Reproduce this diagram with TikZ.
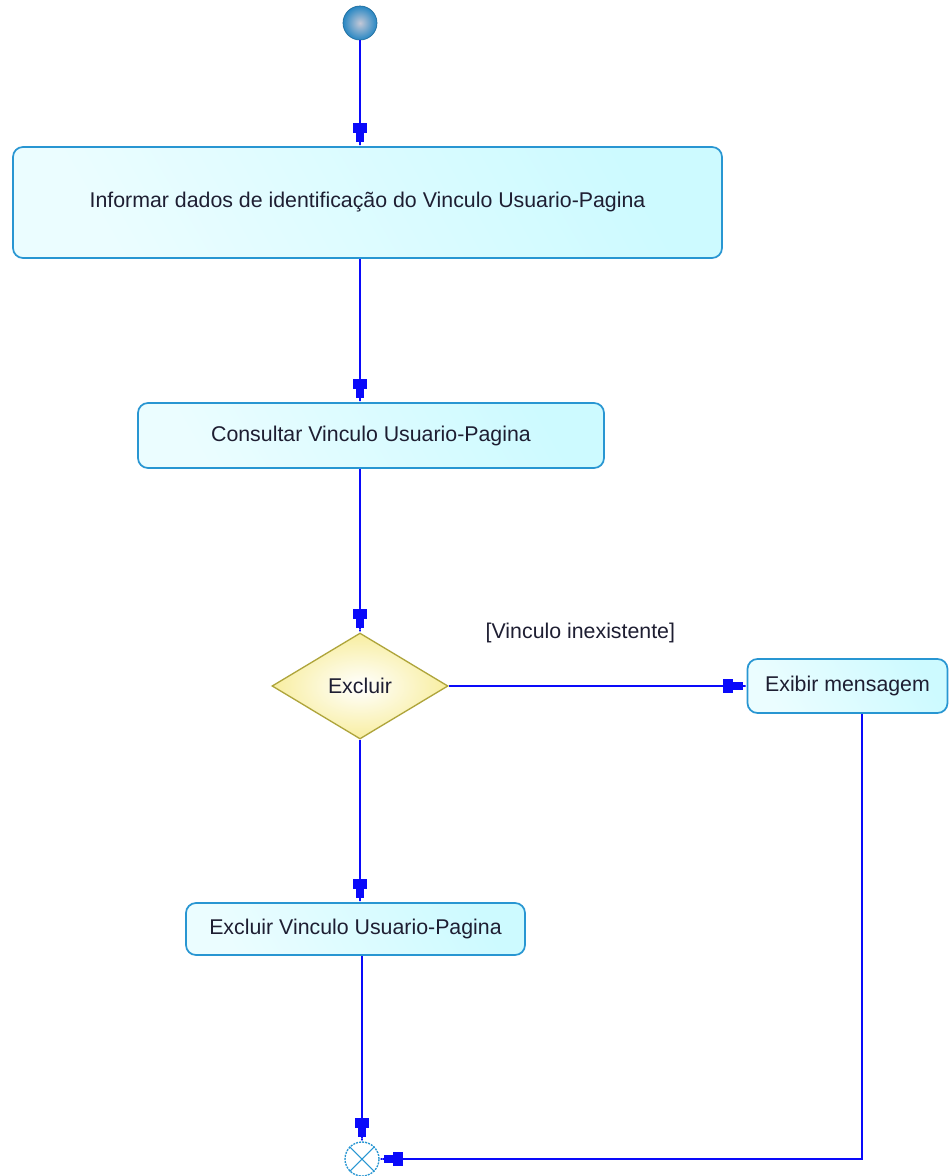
\documentclass[tikz,border=0pt]{standalone}
\usepackage{fontspec}
\setmainfont{Liberation Sans}
\usetikzlibrary{arrows.meta,shapes.geometric}
\definecolor{edgeblue}{RGB}{10,10,250}
\definecolor{boxborder}{RGB}{40,150,210}
\definecolor{boxfill}{RGB}{205,250,255}
\definecolor{diafill}{RGB}{248,238,160}
\definecolor{diaborder}{RGB}{175,165,60}
\definecolor{ballin}{RGB}{195,200,215}
\definecolor{ballout}{RGB}{40,135,195}
\definecolor{txt}{RGB}{30,30,50}
\begin{document}
\begin{tikzpicture}[x=0.75pt,y=-0.75pt,
  every node/.style={font=\fontsize{16}{19}\selectfont, text=txt},
  act/.style={draw=boxborder, line width=1.3pt, rounded corners=7.5pt,
    shading=axis, left color=boxfill, right color=white!60!boxfill, shading angle=-60,
    inner sep=0pt},
  dec/.style={diamond, draw=diaborder, line width=1pt, inner sep=0pt,
    inner color=white, outer color=diafill},
  flow/.style={draw=edgeblue, line width=1.5pt,
    -{Rectangle[length=7.5pt,width=10.5pt,sep=0pt] Rectangle[length=7pt,width=6.5pt,sep=0pt] Rectangle[length=3pt,width=1.5pt,sep=0pt]}}]
\useasboundingbox (0,0) rectangle (949,1176);
\fill[white] (0,0) rectangle (949,1176);

\node[circle, minimum size=25.5pt, inner sep=0pt, inner color=ballin, outer color=ballout,
  draw=ballout!80!black, line width=0.5pt] (start) at (360,23) {};

\node[act, minimum width=531.75pt, minimum height=83.25pt] (b1) at (367.5,202.5)
  {Informar dados de identificação do Vinculo Usuario-Pagina};
\node[act, minimum width=349.5pt, minimum height=48.75pt] (b2) at (371,435.5)
  {Consultar Vinculo Usuario-Pagina};
\node[dec, minimum width=132pt, minimum height=79.5pt] (d) at (360,686) {Excluir};
\node[act, minimum width=150pt, minimum height=40.5pt] (ex) at (847.5,686) {Exibir mensagem};
\node[act, minimum width=254.25pt, minimum height=39pt] (b3) at (355.5,929)
  {Excluir Vinculo Usuario-Pagina};
\node[circle, draw=boxborder, dashed, dash pattern=on 1.5pt off 0.8pt, line width=1pt,
  minimum size=25.5pt, inner sep=0pt, fill=white] (end) at (362,1159) {};
\draw[boxborder, line width=0.8pt] (end.north west) -- (end.south east)
  (end.north east) -- (end.south west);

\node[anchor=west] (lbl) at (481,633) {[Vinculo inexistente]};

\draw[flow] (start.south) -- (start.south |- b1.north);
\draw[flow] (b1.south -| d.north) -- (d.north |- b2.north);
\draw[flow] (b2.south -| d.north) -- (d.north);
\draw[flow] (d.east) -- (ex.west);
\draw[flow] (d.south) -- (d.south |- b3.north);
\draw[flow] (b3.south -| end.north) -- (end.north);
\draw[flow] ([xshift=10.5pt]ex.south) |- (end.east);
\end{tikzpicture}
\end{document}
